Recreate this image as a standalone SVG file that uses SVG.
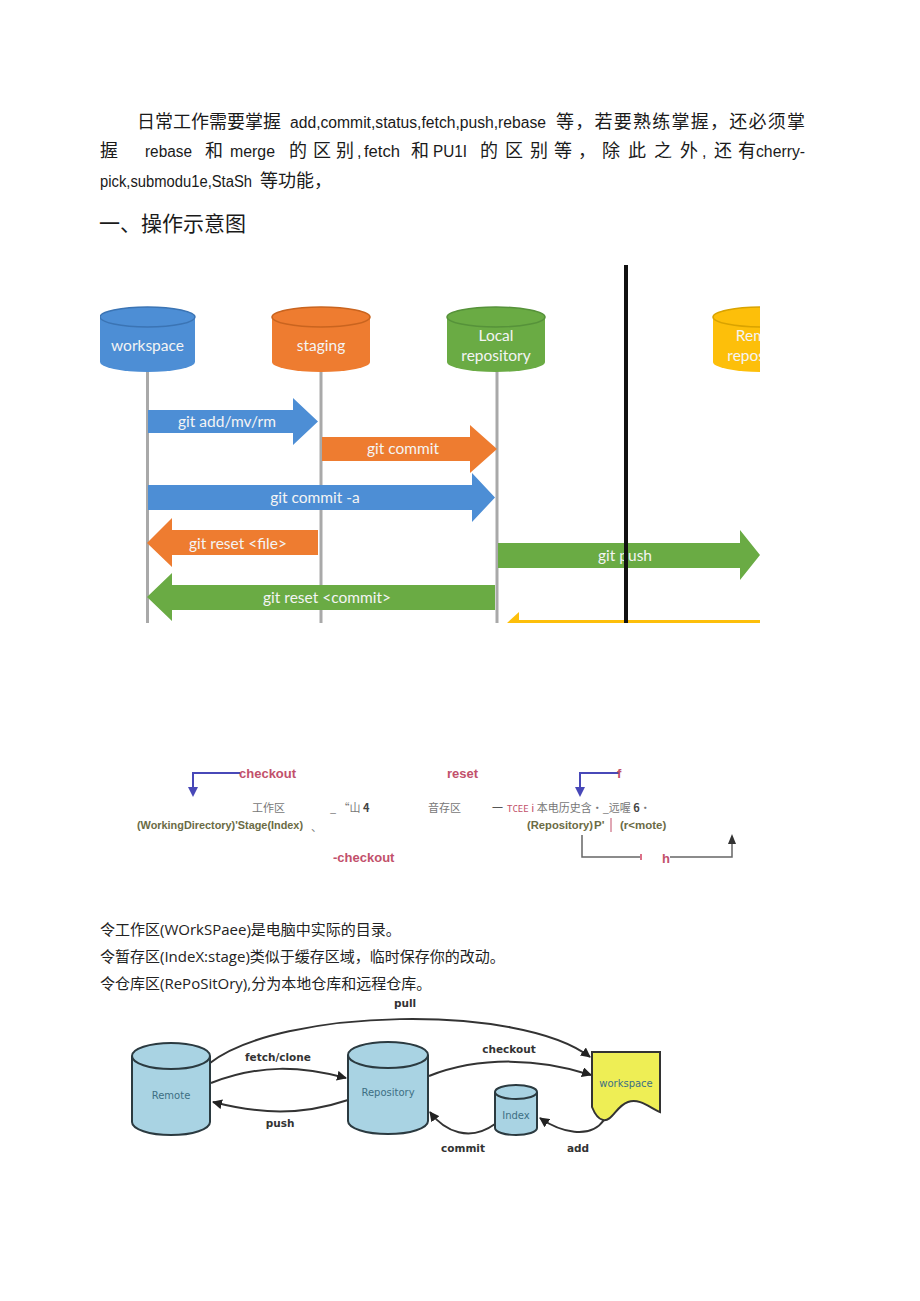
<svg xmlns="http://www.w3.org/2000/svg" width="920" height="1301" viewBox="0 0 920 1301">
<style>
.cj{font-family:"Noto Sans CJK SC","Noto Sans",sans-serif;fill:#1a1a1a}
.lt{font-family:"Liberation Sans","Noto Sans CJK SC",sans-serif;font-size:16px;fill:#1a1a1a}
.dg{font-family:Lato,"Open Sans",sans-serif;font-size:15.5px;fill:#f4f4f4;text-anchor:middle}
.gl{stroke:#a9a9a9;stroke-width:3;fill:none}
.red{font-family:"Liberation Sans",sans-serif;font-weight:bold;font-size:13px;fill:#c2506b}
.gy{font-family:"Noto Sans CJK SC",sans-serif;font-size:11px;fill:#777}
.ol{font-family:"Liberation Sans",sans-serif;font-weight:bold;font-size:11.5px;fill:#6b6b45}
.bl{stroke:#4848b8;stroke-width:2;fill:none}
.cyl{fill:#a9d3e3;stroke:#2b3a40;stroke-width:2}
.lb{font-family:"DejaVu Sans",sans-serif;font-size:10px;fill:#3d6f84;text-anchor:middle}
.ed{stroke:#333;stroke-width:2;fill:none;marker-end:url(#ah)}
.el{font-family:"DejaVu Sans",sans-serif;font-weight:bold;font-size:10.5px;fill:#333;text-anchor:middle}
.bt{font-family:"Open Sans","Noto Sans CJK SC",sans-serif;font-size:15px;fill:#222}
</style>
<defs>
<clipPath id="cp"><rect x="100" y="265" width="660" height="358"/></clipPath>
<marker id="ah" viewBox="0 0 10 10" refX="9" refY="5" markerWidth="5" markerHeight="5" orient="auto"><path d="M0,0 L10,5 L0,10 z" fill="#222"/></marker>
</defs>
<rect width="920" height="1301" fill="#fff"/>

<g id="intro">
<text class="cj" font-size="18" y="128"><tspan x="137">日常工作需要掌握</tspan><tspan class="lt" x="290" textLength="256" lengthAdjust="spacingAndGlyphs">add,commit,status,fetch,push,rebase</tspan><tspan x="556" textLength="249" lengthAdjust="spacing">等，若要熟练掌握，还必须掌</tspan></text>
<text class="cj" font-size="18" y="157"><tspan x="100">握</tspan><tspan class="lt" x="145" textLength="47" lengthAdjust="spacingAndGlyphs">rebase</tspan><tspan x="205">和</tspan><tspan class="lt" x="230" textLength="45" lengthAdjust="spacingAndGlyphs">merge</tspan><tspan x="289">的</tspan><tspan x="313">区</tspan><tspan x="336">别</tspan><tspan class="lt" x="357">,</tspan><tspan class="lt" x="364" textLength="36" lengthAdjust="spacingAndGlyphs">fetch</tspan><tspan x="411">和</tspan><tspan class="lt" x="433" textLength="34" lengthAdjust="spacingAndGlyphs">PU1I</tspan><tspan x="480">的</tspan><tspan x="505">区</tspan><tspan x="530">别</tspan><tspan x="554">等</tspan><tspan x="578">，</tspan><tspan x="602">除</tspan><tspan x="628">此</tspan><tspan x="654">之</tspan><tspan x="680">外</tspan><tspan class="lt" x="702">,</tspan><tspan x="714">还</tspan><tspan x="738">有</tspan><tspan class="lt" x="756" textLength="49" lengthAdjust="spacingAndGlyphs">cherry-</tspan></text>
<text class="cj" font-size="18" y="187"><tspan class="lt" x="100" textLength="152" lengthAdjust="spacingAndGlyphs">pick,submodu1e,StaSh</tspan><tspan x="260">等功能，</tspan></text>
<text class="cj" font-size="21" x="99" y="231">一、操作示意图</text>
</g>

<g id="gitflow" clip-path="url(#cp)">
<g id="lines">
<line class="gl" x1="147.5" y1="365" x2="147.5" y2="623"/>
<line class="gl" x1="321" y1="365" x2="321" y2="623"/>
<line class="gl" x1="497" y1="365" x2="497" y2="623"/>
</g>
<g id="workspace">
<path d="M100,317 V362 A47.5,10 0 0 0 195,362 V317 Z" fill="#4d8ed5"/>
<ellipse cx="147.5" cy="317" rx="47.5" ry="10" fill="#4d8ed5" stroke="#3b74b4" stroke-width="1.5"/>
<text class="dg" x="147.5" y="351">workspace</text>
</g>
<g id="staging">
<path d="M272,317 V362 A49,10 0 0 0 370,362 V317 Z" fill="#ee7c30"/>
<ellipse cx="321" cy="317" rx="49" ry="10" fill="#ee7c30" stroke="#c9641f" stroke-width="1.5"/>
<text class="dg" x="321" y="351">staging</text>
</g>
<g id="local">
<path d="M447,317 V362 A49,10 0 0 0 545,362 V317 Z" fill="#6aab44"/>
<ellipse cx="496" cy="317" rx="49" ry="10" fill="#6aab44" stroke="#56923a" stroke-width="1.5"/>
<text class="dg" x="496" y="341">Local</text>
<text class="dg" x="496" y="361">repository</text>
</g>
<g id="remote">
<path d="M713,317 V362 A49,10 0 0 0 811,362 V317 Z" fill="#fdbf0a"/>
<ellipse cx="762" cy="317" rx="49" ry="10" fill="#fdbf0a" stroke="#d9a300" stroke-width="1.5"/>
<text class="dg" x="762" y="341">Remote</text>
<text class="dg" x="762" y="361">repository</text>
</g>
<g id="arrows">
<polygon points="148,410 293,410 293,398 318,421.5 293,445 293,433 148,433" fill="#4d8ed5"/>
<text class="dg" x="227" y="427">git add/mv/rm</text>
<polygon points="322,437 470,437 470,425 497,449 470,473 470,461 322,461" fill="#ee7c30"/>
<text class="dg" x="403" y="454">git commit</text>
<polygon points="148,485 472,485 472,473 495,497.5 472,522 472,510 148,510" fill="#4d8ed5"/>
<text class="dg" x="315" y="503">git commit -a</text>
<polygon points="147,543 172,518 172,530 318,530 318,555 172,555 172,567" fill="#ee7c30"/>
<text class="dg" x="238" y="549">git reset &lt;file&gt;</text>
<polygon points="498,543 740,543 740,530 760,555 740,580 740,568 498,568" fill="#6aab44"/>
<text class="dg" x="625" y="561">git push</text>
<polygon points="147,597 172,573 172,585 495,585 495,610 172,610 172,621" fill="#6aab44"/>
<text class="dg" x="327" y="603">git reset &lt;commit&gt;</text>
<polygon points="507,623 519,612 519,620 760,620 760,623" fill="#fdbf0a"/>
</g>
<line x1="626" y1="265" x2="626" y2="623" stroke="#111" stroke-width="4"/>
</g>

<g id="garbled">
<path class="bl" d="M240,773 H193 V789"/>
<polygon points="188,787 198,787 193,797" fill="#4848b8"/>
<text class="red" x="239" y="778">checkout</text>
<text class="red" x="447" y="778">reset</text>
<path class="bl" d="M620,773 H580 V789"/>
<polygon points="575,787 585,787 580,797" fill="#4848b8"/>
<text class="red" x="617" y="778">f</text>
<text class="gy" x="252" y="812">工作区</text>
<text class="gy" x="330" y="812">_ “山 <tspan font-weight="bold" fill="#444">4</tspan></text>
<text class="gy" x="428" y="812">音存区</text>
<text class="gy" x="492" y="812"><tspan fill="#555">一</tspan><tspan x="507" fill="#c2506b" font-family="'DejaVu Sans Mono',monospace" font-size="9">TCEE</tspan><tspan fill="#c2506b"> i </tspan>本电历史含・_远喔 <tspan font-weight="bold" fill="#444">6</tspan>・</text>
<text class="ol" x="137" y="829" font-size="10.5px" textLength="166" lengthAdjust="spacingAndGlyphs">(WorkingDirectory)'Stage(Index)</text>
<text class="gy" x="311" y="831">、</text>
<text class="ol" x="527" y="829" textLength="66" lengthAdjust="spacingAndGlyphs">(Repository)</text>
<text class="ol" x="594" y="829" fill="#c2506b">P'</text>
<line x1="611" y1="818" x2="611" y2="832" stroke="#c2506b" stroke-width="1"/>
<text class="ol" x="620" y="829" fill="#4a4a8a">(r&lt;mote)</text>
<text class="red" x="333" y="862">-checkout</text>
<path d="M582,835 V857 H640" stroke="#666" stroke-width="1.5" fill="none"/>
<line x1="641" y1="854" x2="641" y2="860" stroke="#d04060" stroke-width="1.5"/>
<text class="red" x="662" y="863" font-size="12">h</text>
<path d="M670,857 H732 V842" stroke="#666" stroke-width="1.5" fill="none"/>
<polygon points="728,844 736,844 732,834" fill="#333"/>
</g>

<g id="notes">
<text class="bt" x="100" y="935">令工作区(WOrkSPaee)是电脑中实际的目录。</text>
<text class="bt" x="100" y="962">令暂存区(IndeX:stage)类似于缓存区域，临时保存你的改动。</text>
<text class="bt" x="100" y="989">令仓库区(RePoSitOry),分为本地仓库和远程仓库。</text>
</g>

<g id="connectors">
<path class="ed" d="M210,1063 C280,1008 520,1003 590,1057"/>
<path class="ed" d="M211,1083 C260,1064 300,1066 346,1078"/>
<path class="ed" d="M348,1100 C300,1116 260,1114 213,1102"/>
<path class="ed" d="M429,1076 C480,1056 540,1058 591,1075"/>
<path class="ed" d="M495,1124 C470,1142 445,1132 430,1112"/>
<path class="ed" d="M604,1120 C590,1140 560,1132 540,1118"/>
<text class="el" x="405" y="1007">pull</text>
<text class="el" x="278" y="1061">fetch/clone</text>
<text class="el" x="280" y="1127">push</text>
<text class="el" x="509" y="1053">checkout</text>
<text class="el" x="463" y="1152">commit</text>
<text class="el" x="578" y="1152">add</text>
</g>
<g id="remote2">
<path class="cyl" d="M132,1056 V1122 A39,13 0 0 0 210,1122 V1056"/>
<ellipse class="cyl" cx="171" cy="1056" rx="39" ry="13"/>
<text class="lb" x="171" y="1099">Remote</text>
</g>
<g id="repository2">
<path class="cyl" d="M348,1055 V1121 A40,13 0 0 0 428,1121 V1055"/>
<ellipse class="cyl" cx="388" cy="1055" rx="40" ry="13"/>
<text class="lb" x="388" y="1096">Repository</text>
</g>
<g id="index2">
<path class="cyl" d="M495,1092 V1128 A21,7 0 0 0 537,1128 V1092"/>
<ellipse class="cyl" cx="516" cy="1092" rx="21" ry="7"/>
<text class="lb" x="516" y="1119">Index</text>
</g>
<g id="workspace2">
<path d="M592,1052 H660 V1112 C650,1108 640,1098 628,1102 C616,1106 612,1122 603,1120 C598,1119 594,1112 592,1107 Z" fill="#eeee55" stroke="#333" stroke-width="2"/>
<text class="lb" x="626" y="1087" fill="#555510">workspace</text>
</g>
</svg>
